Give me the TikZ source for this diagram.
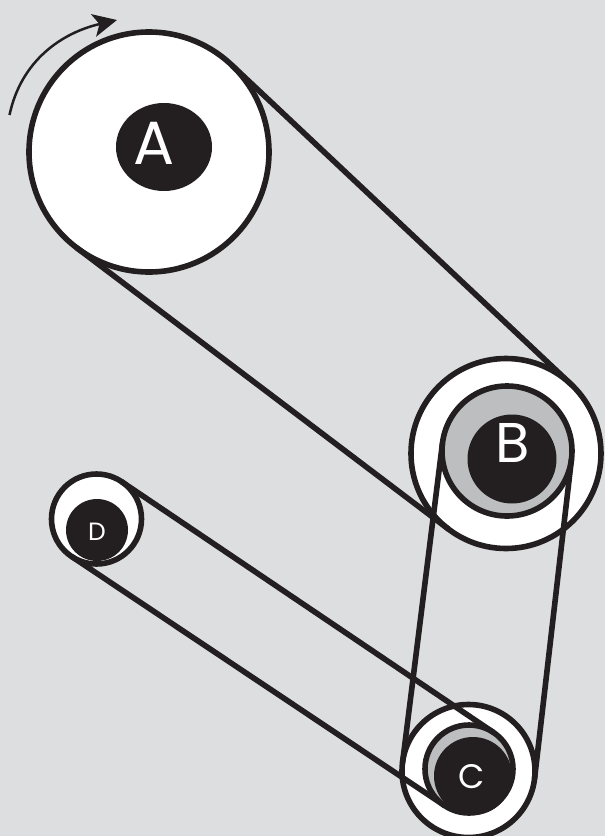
\documentclass[tikz,border=0pt]{standalone}
\usepackage{xcolor}
\usepackage{fontspec}
\setmainfont{Poppins}
\usetikzlibrary{shapes.geometric, arrows.meta}
\definecolor{paneltone}{HTML}{DCDEE0}
\definecolor{inktone}{HTML}{231F20}
\definecolor{ringtone}{HTML}{BCBEC0}
\tikzstyle{pulley} = [draw=inktone, circle, fill=white, line width=5.6pt, inner sep=0pt, outer sep=0pt]
\tikzstyle{ring} = [draw=inktone, circle, fill=ringtone, line width=5.6pt, inner sep=0pt, outer sep=0pt]
\tikzstyle{hub} = [circle, fill=inktone, inner sep=0pt, outer sep=0pt]
\tikzstyle{letter} = [text=white, inner sep=0pt]
\tikzstyle{belt} = [draw=inktone, line width=5.6pt]
\tikzstyle{spin} = [draw=inktone, line width=2.5pt, -{Stealth[length=24pt, width=23pt, inset=6pt]}]

\begin{document}
\begin{tikzpicture}[x=1pt, y=-1pt]
    \useasboundingbox (0,0) rectangle (605,836);
    \fill[paneltone] (0,0) rectangle (605,836);
    \node [pulley, minimum size=240pt] (wheelA) at (149,152) {};
    \node [pulley, minimum size=190pt] (wheelB) at (506,453.5) {};
    \node [pulley, minimum size=133pt] (wheelC) at (468.5,771) {};
    \node [pulley, minimum size=90pt] (wheelD) at (96.5,519) {};
    \node [ring, minimum size=130pt] (ringB) at (507,451) {};
    \node [ring, minimum size=88pt] (ringC) at (469,769) {};
    \node [hub, ellipse, minimum width=96pt, minimum height=88pt] (hubA) at (164,147) {};
    \node [hub, minimum size=89pt] (hubB) at (512,459) {};
    \node [hub, minimum size=78pt] (hubC) at (473,776) {};
    \node [hub, minimum size=62pt] (hubD) at (97,530) {};
    \draw [belt] (wheelA.46.8) -- (wheelB.46.8);
    \draw [belt] (wheelA.-127.2) -- (wheelB.-127.2);
    \draw [belt] (ringB.173) -- (wheelC.173);
    \draw [belt] (ringB.-7) -- (wheelC.-7);
    \draw [belt] (wheelD.56) -- (ringC.56);
    \draw [belt] (wheelD.-124) -- (ringC.-124);
    \node [letter] (labelA) at (154,143) {\fontsize{61}{61}\selectfont A};
    \node [letter] (labelB) at (513,443) {\fontsize{56}{56}\selectfont B};
    \node [letter] (labelC) at (472,777) {\fontsize{34}{34}\selectfont C};
    \node [letter] (labelD) at (97,532) {\fontsize{25}{25}\selectfont D};
    \coordinate (spinstart) at (9.5,115);
    \coordinate (spinend) at (117,20);
    \draw [spin] (spinstart) to[out=78, in=193] (spinend);
\end{tikzpicture}
\end{document}
